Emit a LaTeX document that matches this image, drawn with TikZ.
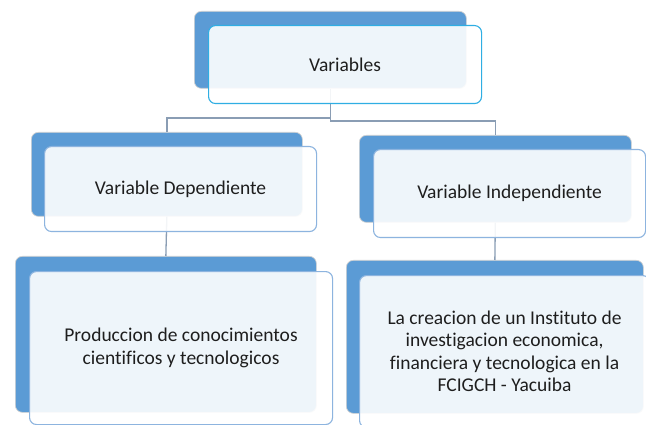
\documentclass[tikz,border=0pt]{standalone}
\usepackage{fontspec}
\setmainfont{Carlito}[Ligatures=NoCommon]
\definecolor{blueA}{HTML}{5B9BD5}
\definecolor{edgeTop}{HTML}{2FAEE3}
\definecolor{edgeChild}{HTML}{8DB4DF}
\definecolor{connC}{HTML}{8A9DB4}
\definecolor{txt}{HTML}{1E1E1E}
\begin{document}
\begin{tikzpicture}[x=1pt,y=-1pt,
  backbox/.style={fill=blueA, draw=black!18, line width=0.7pt, rounded corners=7pt, inner sep=0pt, anchor=north west},
  frontbox/.style={fill=white, fill opacity=0.9, text opacity=1, draw=edgeChild, line width=1.1pt, rounded corners=7pt, inner sep=0pt, anchor=north west, align=center, text=txt, font=\fontsize{19.5}{22.5}\selectfont},
  conn/.style={draw=connC, line width=1.3pt}]
\useasboundingbox (0,0) rectangle (646,425);
\fill[white] (0,0) rectangle (646,425);
% back (blue) boxes
\node[backbox, minimum width=272pt, minimum height=77pt] (pb) at (194,11) {};
\node[backbox, minimum width=271pt, minimum height=84pt] (lb) at (31,132) {};
\node[backbox, minimum width=272pt, minimum height=87pt] (rb) at (359,135) {};
\node[backbox, minimum width=301pt, minimum height=156pt] (llb) at (15,256) {};
\node[backbox, minimum width=297pt, minimum height=153pt] (rrb) at (346,260) {};
% connectors
\coordinate (hl) at (0,118);
\coordinate (hr) at (0,121);
\draw[conn] (pb.south) -- (pb.south |- hl) -- (lb.north |- hl) -- (lb.north);
\draw[conn] (pb.south) -- (pb.south |- hr) -- (rb.north |- hr) -- (rb.north);
\draw[conn] (lb.south) -- (llb.north);
\draw[conn] (rb.south) -- (rrb.north);
% front boxes
\node[frontbox, draw=edgeTop, minimum width=273pt, minimum height=78pt] (pf) at (208,25) {Variables};
\node[frontbox, minimum width=272pt, minimum height=85pt] (lf) at (44,146) {Variable Dependiente};
\node[frontbox, minimum width=272pt, minimum height=88pt] (rf) at (373,149) {Variable Independiente};
\node[frontbox, minimum width=303pt, minimum height=153pt] (llf) at (29,271) {Produccion de conocimientos\\cientificos y tecnologicos};
\node[frontbox, minimum width=290pt, minimum height=152pt] (rrf) at (359,275) {La creacion de un Instituto de\\investigacion economica,\\financiera y tecnologica en la\\FCIGCH - Yacuiba};
\end{tikzpicture}
\end{document}
